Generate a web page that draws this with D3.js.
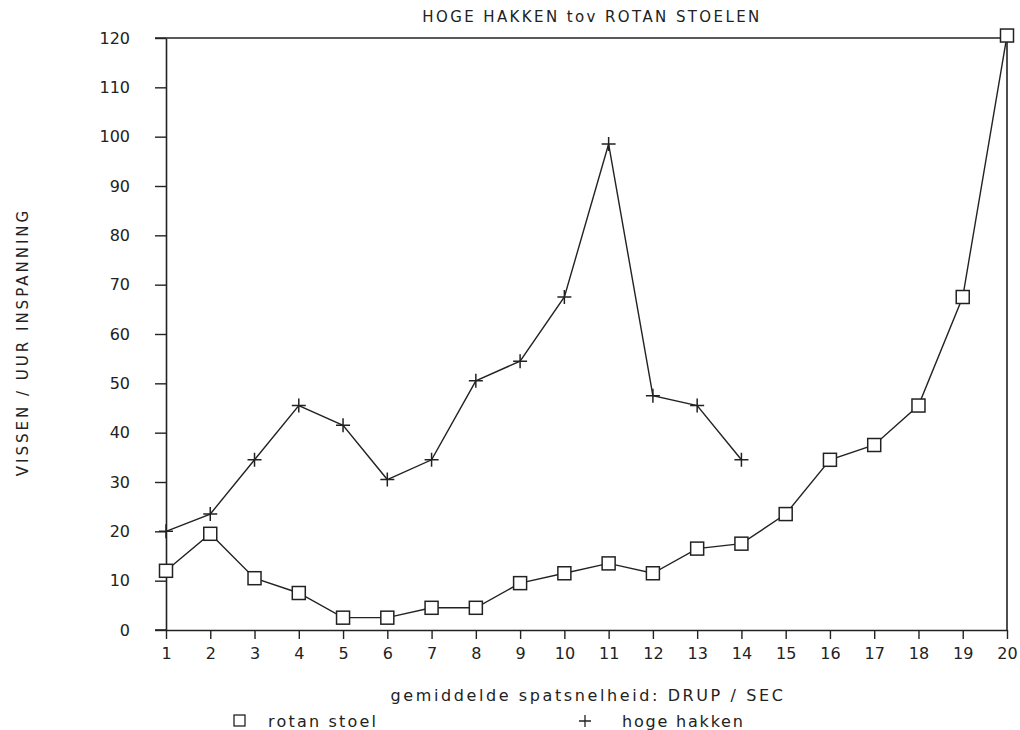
<!DOCTYPE html>
<html>
<head>
<meta charset="utf-8">
<script src="https://cdn.jsdelivr.net/npm/d3@7"></script>
<style>
  body { margin: 0; background: #fff; }
  text { font-family: "DejaVu Sans", sans-serif; fill: #222; }
</style>
</head>
<body>
<div id="chart"></div>
<script>
// data
var xTicks = d3.range(1, 21);
var yTicks = d3.range(0, 121, 10);
var rotanStoel = [12, 19.5, 10.5, 7.5, 2.5, 2.5, 4.5, 4.5, 9.5, 11.5, 13.5, 11.5, 16.5, 17.5, 23.5, 34.5, 37.5, 45.5, 67.5, 120.5];
var hogeHakken = [20, 23.5, 34.5, 45.5, 41.5, 30.5, 34.5, 50.5, 54.5, 67.5, 98.5, 47.5, 45.5, 34.5];
var title = "HOGE HAKKEN tov ROTAN STOELEN";
var xTitle = "gemiddelde spatsnelheid: DRUP / SEC";
var yTitle = "VISSEN / UUR INSPANNING";
var legendNames = ["rotan stoel", "hoge hakken"];

var W = 1020, H = 730;
var margin = {top: 38, right: 13, bottom: 100, left: 166},
    width = W - margin.left - margin.right,
    height = H - margin.top - margin.bottom;

var x = d3.scaleLinear().domain([1, 20]).range([0, width]);
var y = d3.scaleLinear().domain([0, 120]).range([height, 0]);

var svg = d3.select("#chart").append("svg")
    .attr("width", W)
    .attr("height", H);
var g = svg.append("g")
    .attr("transform", "translate(" + margin.left + "," + margin.top + ")");

var ink = "#222";

// frame: top and right lines
g.append("line").attr("x1", -11).attr("x2", width).attr("y1", y(120)).attr("y2", y(120))
    .attr("stroke", ink).attr("stroke-width", 1.6);
g.append("line").attr("x1", width).attr("x2", width).attr("y1", y(120)).attr("y2", y(0))
    .attr("stroke", ink).attr("stroke-width", 1.6);

// axes
var yAxis = g.append("g")
    .call(d3.axisLeft(y).tickValues(yTicks).tickSize(11).tickPadding(25).tickSizeOuter(0));
var xAxis = g.append("g")
    .attr("transform", "translate(0," + height + ")")
    .call(d3.axisBottom(x).tickValues(xTicks).tickSize(9).tickPadding(9).tickSizeOuter(0));

[xAxis, yAxis].forEach(function(a) {
  a.select(".domain").attr("stroke", ink).attr("stroke-width", 1.6);
  a.selectAll(".tick line").attr("stroke", ink).attr("stroke-width", 1.4);
  a.selectAll("text").style("font-family", "DejaVu Sans, sans-serif")
    .style("font-size", "16px").style("fill", ink);
});
// extend bottom axis line left like the original
xAxis.append("line").attr("x1", -11).attr("x2", 0).attr("stroke", ink).attr("stroke-width", 1.6);

var line = d3.line()
    .x(function(d, i) { return x(xTicks[i]); })
    .y(function(d) { return y(d); });

g.append("path").datum(rotanStoel).attr("d", line)
    .attr("fill", "none").attr("stroke", ink).attr("stroke-width", 1.4);
g.append("path").datum(hogeHakken).attr("d", line)
    .attr("fill", "none").attr("stroke", ink).attr("stroke-width", 1.4);

var sq = 13;
g.selectAll(".sq").data(rotanStoel).enter().append("rect")
    .attr("x", function(d, i) { return x(xTicks[i]) - sq / 2; })
    .attr("y", function(d) { return y(d) - sq / 2; })
    .attr("width", sq).attr("height", sq)
    .attr("fill", "#fff").attr("stroke", ink).attr("stroke-width", 1.5);

var pl = 7;
g.selectAll(".pl").data(hogeHakken).enter().append("path")
    .attr("d", function(d, i) {
      var cx = x(xTicks[i]), cy = y(d);
      return "M" + (cx - pl) + "," + cy + "H" + (cx + pl) + "M" + cx + "," + (cy - pl) + "V" + (cy + pl);
    })
    .attr("stroke", ink).attr("stroke-width", 1.5).attr("fill", "none");

// titles
svg.append("text").attr("x", 592).attr("y", 22).attr("text-anchor", "middle")
    .style("font-size", "15px").style("letter-spacing", "2.4px").text(title);
svg.append("text").attr("x", 588).attr("y", 701).attr("text-anchor", "middle")
    .style("font-size", "16px").style("letter-spacing", "2.6px").text(xTitle);
svg.append("text").attr("transform", "translate(28,342) rotate(-90)").attr("text-anchor", "middle")
    .style("font-size", "15px").style("letter-spacing", "3px").text(yTitle);

// legend
svg.append("rect").attr("x", 234).attr("y", 715).attr("width", 11).attr("height", 11)
    .attr("fill", "none").attr("stroke", ink).attr("stroke-width", 1.3);
svg.append("text").attr("x", 268).attr("y", 727).style("font-size", "16px")
    .style("letter-spacing", "2.2px").text(legendNames[0]);
svg.append("path").attr("d", "M579,721H591M585,715V727")
    .attr("stroke", ink).attr("stroke-width", 1.3);
svg.append("text").attr("x", 622).attr("y", 727).style("font-size", "16px")
    .style("letter-spacing", "1.8px").text(legendNames[1]);
</script>
</body>
</html>
